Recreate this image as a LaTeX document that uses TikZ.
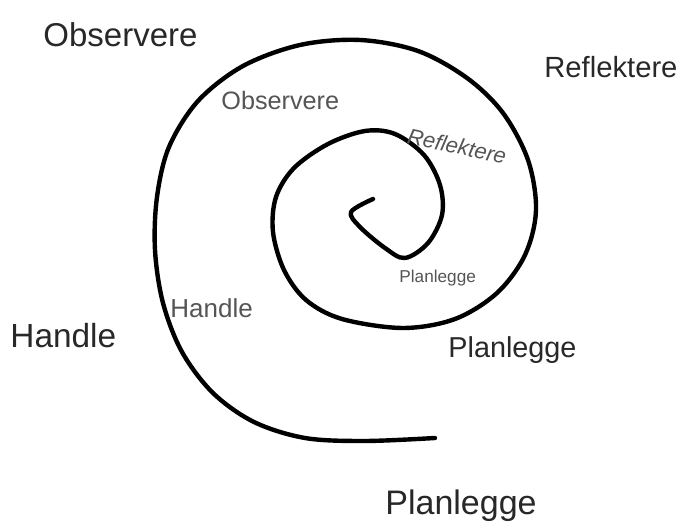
\documentclass[tikz,border=0pt]{standalone}
\usepackage{fontspec}
\setmainfont{Liberation Sans}
\usepackage{xcolor}
\definecolor{labeldark}{RGB}{40,40,40}
\definecolor{labelgray}{RGB}{85,85,85}
\usetikzlibrary{positioning}

\begin{document}
\begin{tikzpicture}[
    x=0.5pt, y=-0.5pt,
    outerlabel/.style={anchor=base west, inner sep=0pt, text=labeldark},
    innerlabel/.style={anchor=base west, inner sep=0pt, text=labelgray},
    spiral/.style={line width=2.2pt, line cap=round, line join=round}
  ]
    \useasboundingbox (0,0) rectangle (681,522);

    % The spiral, from the centre outwards
    \draw[spiral] plot[smooth, tension=0.55] coordinates {
      (373,199) (351,212) (360,227) (385,248) (405,258) (428,243)
      (442,215) (440,185) (424,155) (395,134) (365,131) (328,144)
      (294,168) (276,197) (273,232) (284,270) (306,300) (342,319)
      (403,328) (455,319) (497,293) (525,255) (536,210) (528,160)
      (503,113) (467,78) (418,51) (360,40) (300,45) (243,66)
      (198,101) (169,147) (157,197) (155,250) (163,303) (182,352)
      (213,393) (254,422) (305,438) (365,441) (435,438)};

    % Outer cycle labels
    \node[outerlabel, font=\fontsize{16.5}{18}\selectfont] (obsout) at (43,47) {Observere};
    \node[outerlabel, font=\fontsize{14.6}{16}\selectfont] (refout) at (544,78) {Reflektere};
    \node[outerlabel, font=\fontsize{16.7}{18}\selectfont] (handout) at (10,348) {Handle};
    \node[outerlabel, font=\fontsize{14.4}{16}\selectfont] (planout) at (448,358) {Planlegge};
    \node[outerlabel, font=\fontsize{17}{19}\selectfont] (planlast) at (385,515) {Planlegge};

    % Inner cycle labels
    \node[innerlabel, font=\fontsize{12.6}{14}\selectfont] (obsin) at (221,110) {Observere};
    \node[innerlabel, font=\fontsize{13}{14}\selectfont] (handin) at (170,318) {Handle};
    \node[text=labelgray, inner sep=0pt, rotate=-12,
          font=\fontsize{11}{12}\itshape] (refin) at (457,146) {Reflektere};
    \node[innerlabel, font=\fontsize{8.6}{10}\selectfont] (planin) at (399,283) {Planlegge};
  \end{tikzpicture}
\end{document}
